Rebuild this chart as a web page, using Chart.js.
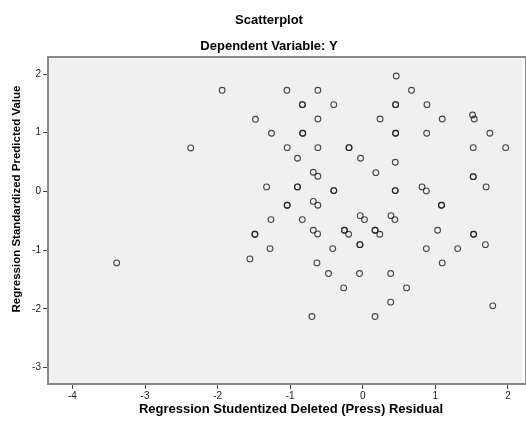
<!DOCTYPE html>
<html>
<head>
<meta charset="utf-8">
<script src="https://cdn.jsdelivr.net/npm/chart.js@4"></script>
<style>
  html, body { margin: 0; padding: 0; background: #fff; }
  #wrap { width: 526px; height: 423px; }
</style>
</head>
<body>
<div id="wrap"><canvas id="scatterChart"></canvas></div>
<script>
  // 残差 (x) と予測値 (y) - 画像から読み取り
  const residuals = [
    -1.938, -1.479, -1.258, -2.371, -1.326, -1.265, -1.487, -1.487, -1.278, -3.391,
    -1.556, 0.460, -1.046, -0.619, 0.671, -0.832, -0.832, -0.400, 0.452, 0.452,
    0.884, -0.619, 0.238, 1.094, 1.512, 1.535, -0.828, -0.828, 0.452, 0.452,
    0.880, 1.750, -1.042, -0.619, -0.190, -0.190, 1.521, 1.968, -0.900, -0.031,
    0.447, -0.682, -0.619, 0.179, 1.521, 1.521, -0.900, -0.900, -0.400, -0.400,
    0.447, 0.447, 0.815, 0.875, 1.699, -1.042, -1.042, -0.682, -0.619, 1.084,
    1.084, -0.834, -0.036, 0.023, 0.388, 0.442, -0.682, -0.623, -0.254, -0.254,
    -0.195, 0.169, 0.169, 0.234, 1.030, 1.526, 1.526, 1.689, -0.414, -0.040,
    -0.040, 0.875, 1.307, -0.632, 1.094, -0.473, -0.045, 0.384, -0.264, 0.602,
    0.384, 1.790, -0.701, 0.169
  ];
  const predicted = [
    1.723, 1.229, 0.991, 0.741, 0.077, -0.480, -0.729, -0.729, -0.974, -1.217,
    -1.149, 1.966, 1.723, 1.723, 1.723, 1.478, 1.478, 1.478, 1.478, 1.478,
    1.478, 1.234, 1.234, 1.234, 1.302, 1.234, 0.991, 0.991, 0.991, 0.991,
    0.991, 0.991, 0.746, 0.746, 0.746, 0.746, 0.746, 0.746, 0.565, 0.565,
    0.497, 0.327, 0.259, 0.320, 0.252, 0.252, 0.077, 0.077, 0.014, 0.014,
    0.014, 0.014, 0.077, 0.009, 0.077, -0.235, -0.235, -0.170, -0.235, -0.235,
    -0.235, -0.480, -0.412, -0.480, -0.412, -0.480, -0.661, -0.724, -0.661, -0.661,
    -0.729, -0.661, -0.661, -0.729, -0.661, -0.729, -0.729, -0.906, -0.974, -0.906,
    -0.906, -0.974, -0.974, -1.217, -1.217, -1.399, -1.399, -1.399, -1.643, -1.643,
    -1.886, -1.949, -2.131, -2.131
  ];
  const xTicks = [-4, -3, -2, -1, 0, 1, 2];
  const yTicks = [-3, -2, -1, 0, 1, 2];

  const points = residuals.map((x, i) => ({ x: x, y: predicted[i] }));

  // 背景・枠線・タイトル
  const frame = {
    id: 'frame',
    beforeDatasetsDraw(chart) {
      const { ctx, chartArea: a } = chart;
      ctx.save();
      ctx.fillStyle = '#f0f0f0';
      ctx.fillRect(a.left, a.top, a.right - a.left, a.bottom - a.top);
      ctx.strokeStyle = '#8a8a8a';
      ctx.lineWidth = 2;
      ctx.strokeRect(a.left, a.top, a.right - a.left + 4, a.bottom - a.top);
      ctx.restore();
    },
    afterDraw(chart) {
      const ctx = chart.ctx;
      ctx.save();
      ctx.fillStyle = '#000';
      ctx.textAlign = 'center';
      ctx.textBaseline = 'middle';
      ctx.font = 'bold 13px "Liberation Sans", Arial, sans-serif';
      ctx.fillText('Scatterplot', 269, 20);
      ctx.fillText('Dependent Variable: Y', 269, 46);
      ctx.fillText('Regression Studentized Deleted (Press) Residual', 291, 409);
      ctx.translate(17, 199);
      ctx.rotate(-Math.PI / 2);
      ctx.font = 'bold 11.5px "Liberation Sans", Arial, sans-serif';
      ctx.fillText('Regression Standardized Predicted Value', 0, 0);
      ctx.restore();
    }
  };

  const tickFont = { family: '"Liberation Sans", Arial, sans-serif', size: 10 };

  const ctx = document.getElementById('scatterChart').getContext('2d');
  const scatterChart = new Chart(ctx, {
    type: 'scatter',
    data: {
      datasets: [{
        data: points,
        pointRadius: 2.9,
        pointHoverRadius: 2.9,
        borderWidth: 1.1,
        borderColor: 'rgba(30,30,30,0.8)',
        backgroundColor: 'rgba(0,0,0,0)'
      }]
    },
    options: {
      responsive: true,
      maintainAspectRatio: false,
      animation: false,
      layout: { padding: { top: 57, left: 0, right: 0, bottom: 0 } },
      plugins: {
        legend: { display: false },
        tooltip: { enabled: false }
      },
      scales: {
        x: {
          min: -4.337,
          max: 2.193,
          afterBuildTicks: s => { s.ticks = xTicks.map(v => ({ value: v })); },
          afterFit: s => { s.height = 39; },
          grid: { drawOnChartArea: false, color: '#444', tickLength: 5 },
          border: { display: false },
          ticks: { color: '#222', font: tickFont, padding: 1, maxRotation: 0 }
        },
        y: {
          min: -3.28,
          max: 2.29,
          afterBuildTicks: s => { s.ticks = yTicks.map(v => ({ value: v })); },
          afterFit: s => { s.width = 48; },
          grid: { drawOnChartArea: false, color: '#444', tickLength: 5 },
          border: { display: false },
          ticks: { color: '#222', font: tickFont, padding: 2 }
        }
      }
    },
    plugins: [frame]
  });
</script>
</body>
</html>
